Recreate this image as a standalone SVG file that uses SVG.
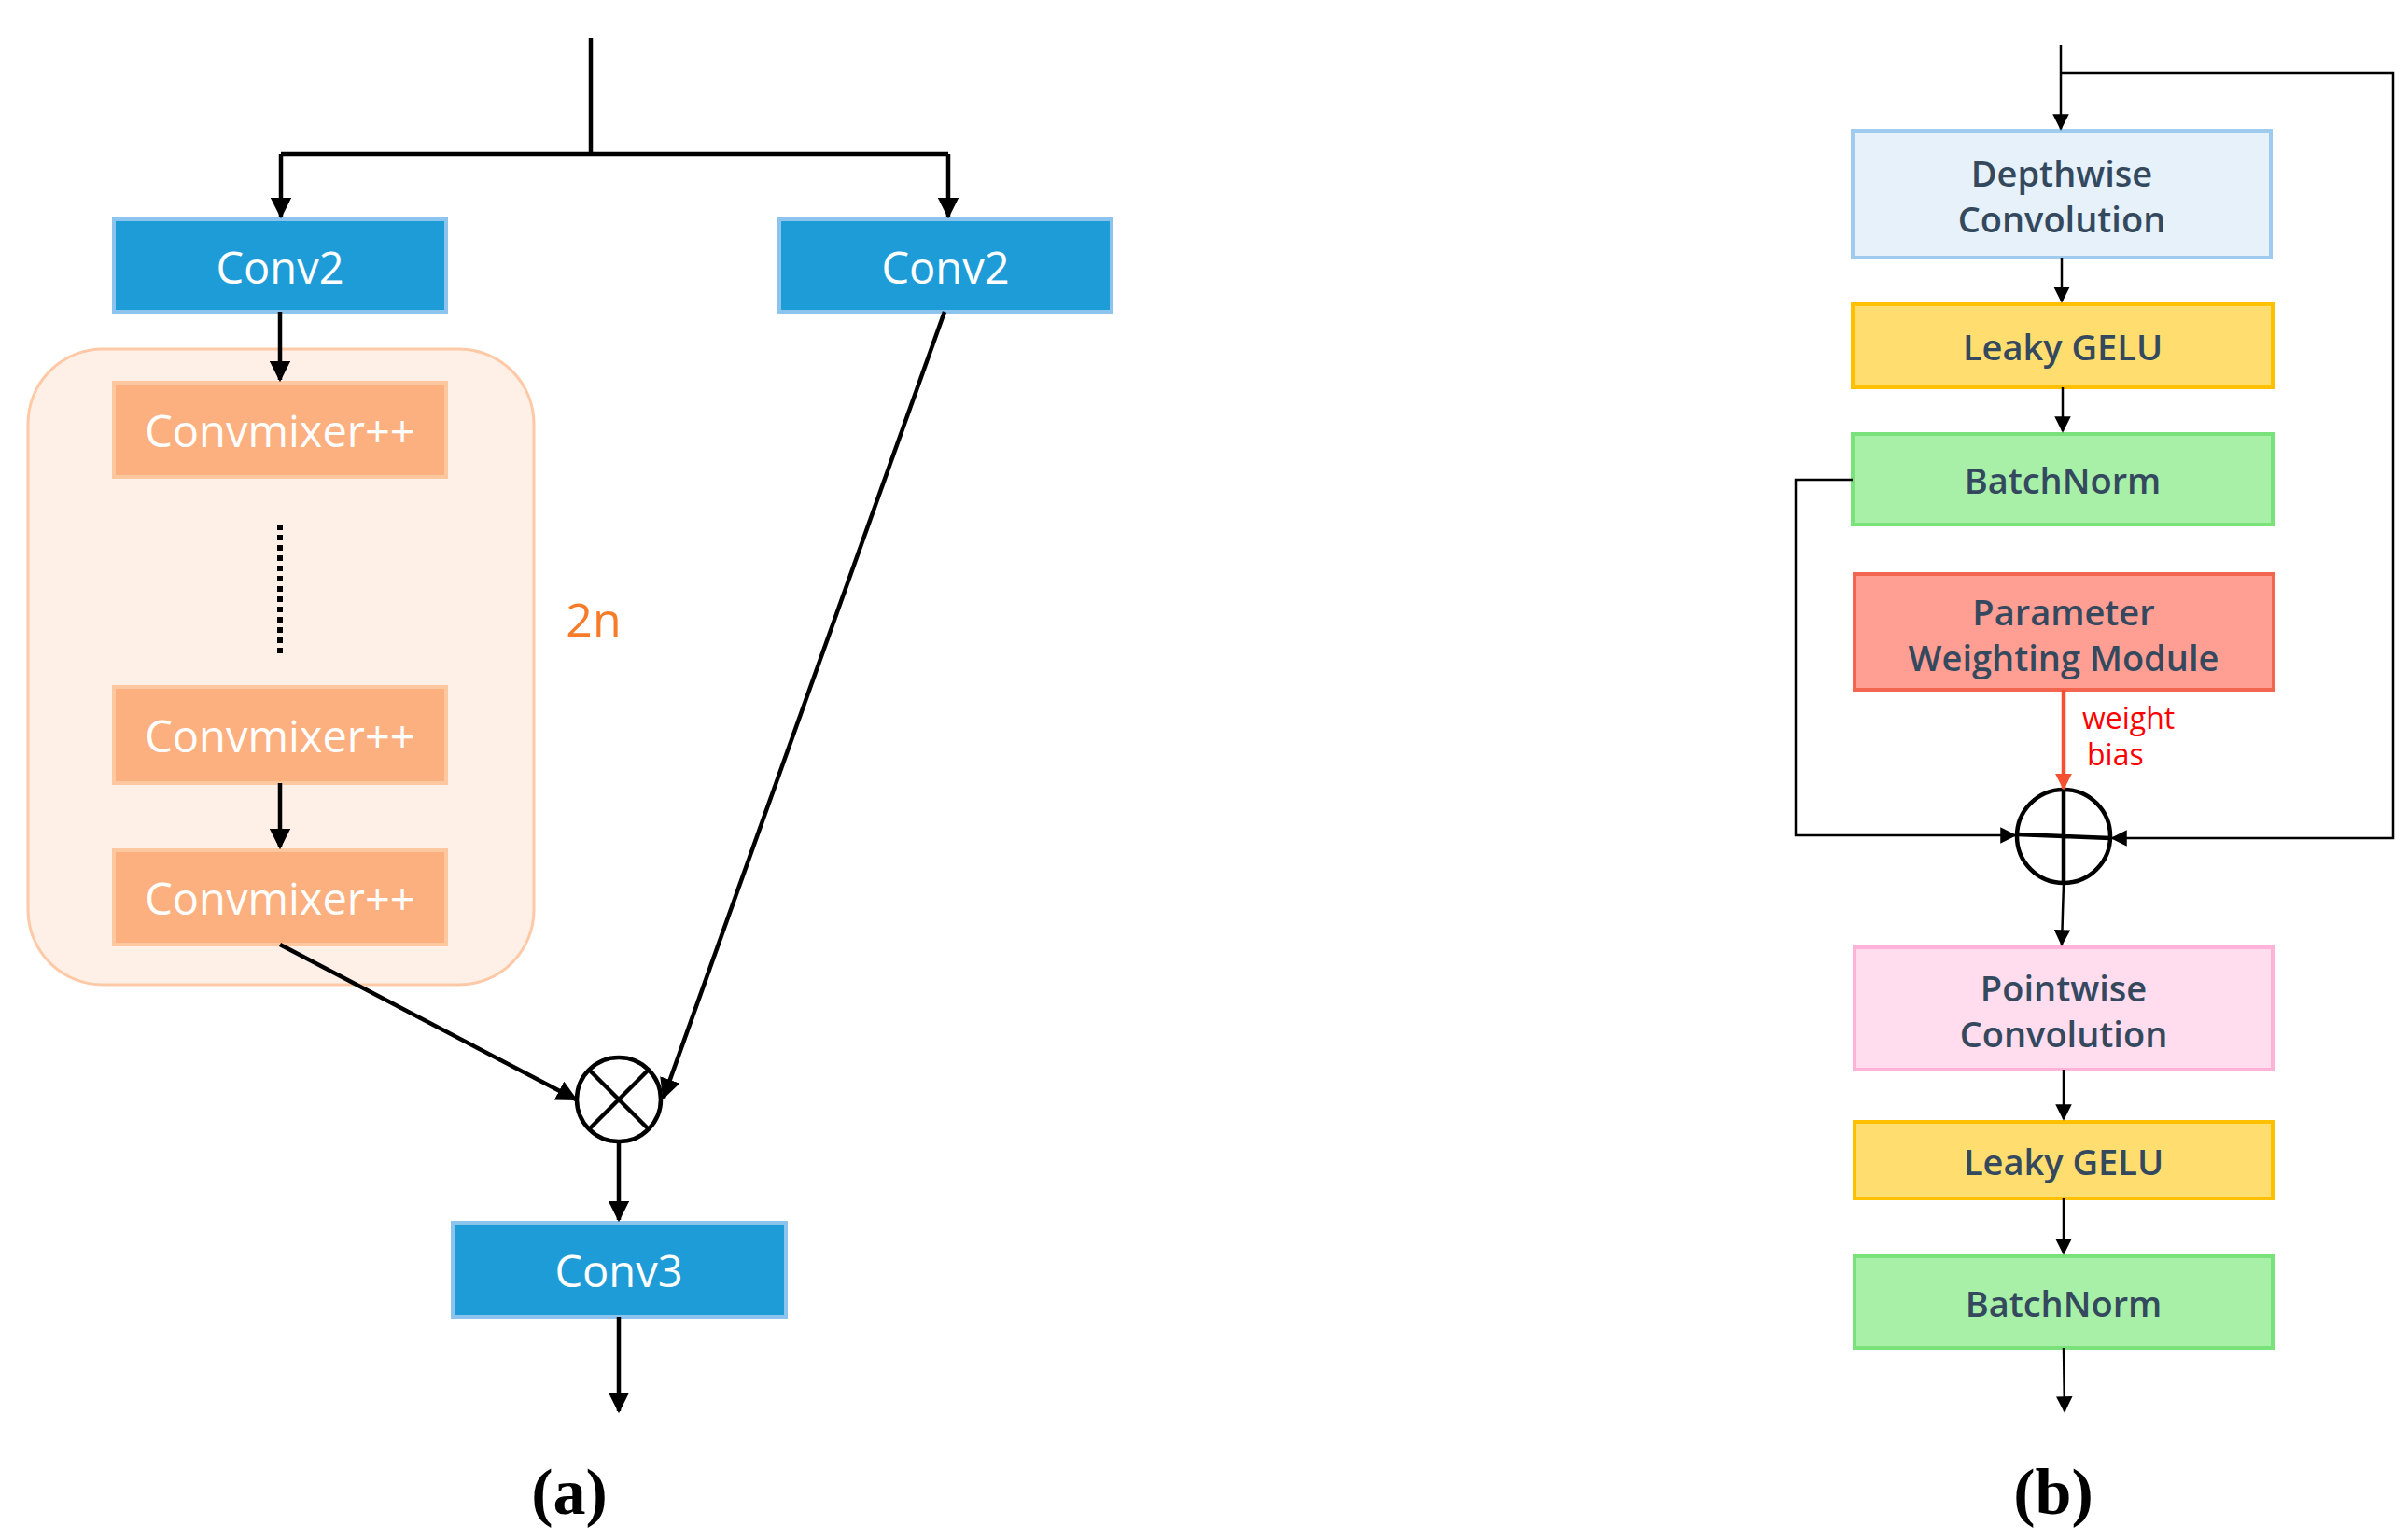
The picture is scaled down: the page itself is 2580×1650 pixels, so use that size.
<svg xmlns="http://www.w3.org/2000/svg" width="2580" height="1650" viewBox="0 0 2580 1650">
<style>
.t{font-family:"Open Sans","Liberation Sans",sans-serif;text-anchor:middle;dominant-baseline:central}
.w{fill:#fff;font-size:47px}
.d{fill:#34495e;font-size:38px;font-weight:600}
.blue{fill:#1e9cd8;stroke:#8cc4ee;stroke-width:4}
.cm{fill:#fdb07f;stroke:#fdc7a0;stroke-width:4}
.k{stroke:#000;fill:none;stroke-width:4.5}
.k2{stroke:#000;fill:none;stroke-width:2.5}
.lab{font-family:"Liberation Serif",serif;font-size:70px;font-weight:bold;text-anchor:middle}
.rt{font-family:"Open Sans","Liberation Sans",sans-serif;font-size:32px;fill:#f00}
</style>
<defs>
<marker id="a" viewBox="0 0 10 10" refX="9" refY="5" markerWidth="5" markerHeight="5" orient="auto" markerUnits="strokeWidth"><path d="M0,0L10,5L0,10z" fill="#000"/></marker>
<marker id="b" viewBox="0 0 10 10" refX="9" refY="5" markerWidth="7" markerHeight="7" orient="auto" markerUnits="strokeWidth"><path d="M0,0L10,5L0,10z" fill="#000"/></marker>
<marker id="r" viewBox="0 0 10 10" refX="9" refY="5" markerWidth="4" markerHeight="4" orient="auto" markerUnits="strokeWidth"><path d="M0,0L10,5L0,10z" fill="#f4502f"/></marker>
</defs>
<g id="group2n"><rect x="30" y="374" width="542" height="681" rx="80" fill="#fef0e6" stroke="#fdc9a6" stroke-width="3"/>
<text x="636" y="663" class="t" style="fill:#f77c2a;font-size:50px">2n</text></g>
<g id="conv2a"><rect class="blue" x="122" y="235" width="356" height="99"/><text class="t w" x="300" y="286">Conv2</text></g>
<g id="conv2b"><rect class="blue" x="835" y="235" width="356" height="99"/><text class="t w" x="1013" y="286">Conv2</text></g>
<g id="cm1"><rect class="cm" x="122" y="410" width="356" height="101"/><text class="t w" x="300" y="461">Convmixer++</text></g>
<g id="cm2"><rect class="cm" x="122" y="736" width="356" height="103"/><text class="t w" x="300" y="788">Convmixer++</text></g>
<g id="cm3"><rect class="cm" x="122" y="911" width="356" height="101"/><text class="t w" x="300" y="962">Convmixer++</text></g>
<g id="mul"><circle cx="663" cy="1178" r="45" fill="#fff" stroke="#000" stroke-width="4.5"/><path d="M631,1146L695,1210M695,1146L631,1210" class="k"/></g>
<g id="conv3"><rect class="blue" x="485" y="1310" width="357" height="101"/><text class="t w" x="663" y="1361">Conv3</text></g>
<g id="dw"><rect x="1985" y="140" width="448" height="136" fill="#e6f1fa" stroke="#9ecbee" stroke-width="4"/><text class="t d" x="2209" y="185">Depthwise</text><text class="t d" x="2209" y="234">Convolution</text></g>
<g id="lg1"><rect x="1985" y="326" width="450" height="89" fill="#ffde6f" stroke="#ffc000" stroke-width="4"/><text class="t d" x="2210" y="371">Leaky GELU</text></g>
<g id="bn1"><rect x="1985" y="465" width="450" height="97" fill="#a8efa8" stroke="#7ae27a" stroke-width="4"/><text class="t d" x="2210" y="514">BatchNorm</text></g>
<g id="pwm"><rect x="1987" y="615" width="449" height="124" fill="#ff9e93" stroke="#f4654f" stroke-width="4"/><text class="t d" x="2211" y="655">Parameter</text><text class="t d" x="2211" y="704">Weighting Module</text></g>
<g id="add"><circle cx="2211" cy="896" r="50" fill="#fff" stroke="#000" stroke-width="4.5"/><path d="M2211,846V946M2161,894L2261,898" class="k"/></g>
<g id="pw"><rect x="1987" y="1015" width="448" height="131" fill="#ffdcee" stroke="#ffb3d9" stroke-width="4"/><text class="t d" x="2211" y="1058">Pointwise</text><text class="t d" x="2211" y="1107">Convolution</text></g>
<g id="lg2"><rect x="1987" y="1202" width="448" height="82" fill="#ffde6f" stroke="#ffc000" stroke-width="4"/><text class="t d" x="2211" y="1244">Leaky GELU</text></g>
<g id="bn2"><rect x="1987" y="1346" width="448" height="98" fill="#a8efa8" stroke="#7ae27a" stroke-width="4"/><text class="t d" x="2211" y="1396">BatchNorm</text></g>
<g id="connectors">
<path class="k" d="M633,41V165"/>
<path class="k" d="M301,165H1016"/>
<path class="k" marker-end="url(#a)" d="M301,165V232"/>
<path class="k" marker-end="url(#a)" d="M1016,165V232"/>
<path class="k" marker-end="url(#a)" d="M300,334V407"/>
<path d="M300,562V703" stroke="#000" stroke-width="6" stroke-dasharray="6,5"/>
<path class="k" marker-end="url(#a)" d="M300,839V908"/>
<path class="k" marker-end="url(#a)" d="M300,1012L617,1178"/>
<path class="k" marker-end="url(#a)" d="M1012,334L711,1176"/>
<path class="k" marker-end="url(#a)" d="M663,1223V1307"/>
<path class="k" marker-end="url(#a)" d="M663,1411V1512"/>
<path class="k2" marker-end="url(#b)" d="M2208,48V138"/>
<path class="k2" marker-end="url(#b)" d="M2208,78H2564V898H2263"/>
<path class="k2" marker-end="url(#b)" d="M2209,276V323"/>
<path class="k2" marker-end="url(#b)" d="M2210,415V462"/>
<path class="k2" marker-end="url(#b)" d="M1985,514H1924V895H2159"/>
<path stroke="#f4502f" stroke-width="4.5" fill="none" marker-end="url(#r)" d="M2211,739V845"/>
<path class="k2" marker-end="url(#b)" d="M2211,946L2209,1012"/>
<path class="k2" marker-end="url(#b)" d="M2211,1146V1199"/>
<path class="k2" marker-end="url(#b)" d="M2211,1284V1343"/>
<path class="k2" marker-end="url(#b)" d="M2211,1444L2212,1512"/>
</g>
<text class="rt" x="2231" y="781">weight</text>
<text class="rt" x="2236" y="820">bias</text>
<text class="lab" x="610" y="1622">(a)</text>
<text class="lab" x="2200" y="1622">(b)</text>
</svg>
